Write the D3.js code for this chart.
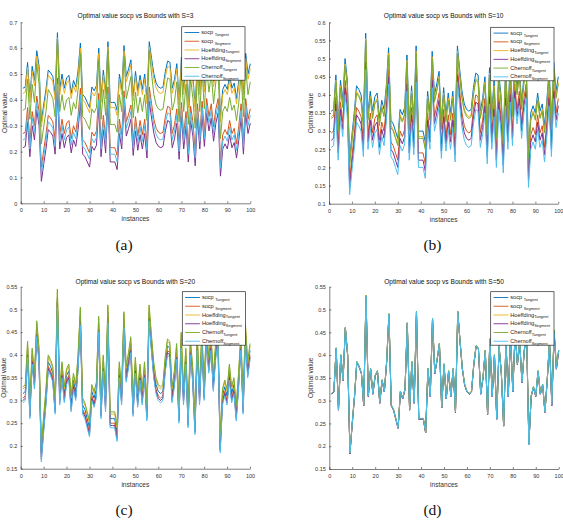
<!DOCTYPE html>
<html><head><meta charset="utf-8">
<script src="https://cdn.jsdelivr.net/npm/d3@7/dist/d3.min.js"></script>
<style>body{margin:0;background:#fff}svg{display:block}text{font-family:"Liberation Sans",Arial,Helvetica,sans-serif}</style>
</head><body><svg id="fig" width="563" height="522"></svg>
<script>
// ---------- data ----------
const instances = d3.range(1, 101);
const xTicks = [0,10,20,30,40,50,60,70,80,90,100];
const yTicksA = [0,0.1,0.2,0.3,0.4,0.5,0.6,0.7];
const yTicksB = [0.1,0.15,0.2,0.25,0.3,0.35,0.4,0.45,0.5,0.55,0.6];
const yTicksCD = [0.15,0.2,0.25,0.3,0.35,0.4,0.45,0.5,0.55];
const legendMain = ["socp ","socp ","Hoeffding","Hoeffding","Chernoff","Chernoff"];
const legendSub = ["Tangent","Segment","Tangent","Segment","Tangent","Segment"];
const colors = ["#0072BD","#D95319","#EDB120","#7E2F8E","#77AC30","#4DBEEE"];

// (a) S=3
const a_socpTan = [0.445,0.45,0.545,0.41,0.53,0.475,0.59,0.53,0.315,0.38,
0.44,0.515,0.505,0.49,0.42,0.66,0.44,0.50,0.445,0.485,
0.495,0.425,0.475,0.45,0.515,0.62,0.42,0.41,0.39,0.37,
0.45,0.435,0.455,0.60,0.41,0.515,0.425,0.625,0.39,0.39,
0.39,0.36,0.50,0.44,0.61,0.49,0.52,0.555,0.415,0.51,
0.435,0.495,0.44,0.50,0.405,0.625,0.56,0.50,0.465,0.45,
0.445,0.45,0.51,0.55,0.545,0.445,0.48,0.54,0.40,0.565,
0.44,0.53,0.39,0.55,0.49,0.375,0.56,0.44,0.57,0.45,
0.58,0.51,0.56,0.47,0.54,0.58,0.335,0.44,0.46,0.44,
0.495,0.445,0.465,0.405,0.475,0.56,0.42,0.58,0.50,0.54];
const a_socpSeg = [0.27,0.275,0.37,0.235,0.355,0.30,0.415,0.355,0.14,0.205,
0.265,0.34,0.33,0.315,0.245,0.485,0.265,0.325,0.27,0.31,
0.32,0.25,0.30,0.275,0.34,0.445,0.245,0.235,0.215,0.195,
0.275,0.26,0.28,0.425,0.235,0.34,0.25,0.45,0.215,0.215,
0.215,0.185,0.325,0.265,0.435,0.315,0.345,0.38,0.24,0.335,
0.26,0.32,0.265,0.325,0.23,0.45,0.385,0.325,0.29,0.275,
0.27,0.275,0.335,0.375,0.37,0.27,0.305,0.365,0.225,0.39,
0.265,0.355,0.215,0.375,0.315,0.20,0.385,0.265,0.395,0.275,
0.405,0.335,0.385,0.295,0.365,0.405,0.16,0.265,0.285,0.265,
0.32,0.27,0.29,0.23,0.30,0.385,0.245,0.405,0.325,0.365];
const a_hoefTan = [0.425,0.43,0.525,0.39,0.51,0.455,0.57,0.51,0.295,0.36,
0.42,0.495,0.485,0.47,0.40,0.64,0.42,0.48,0.425,0.465,
0.475,0.405,0.455,0.43,0.495,0.60,0.40,0.39,0.37,0.35,
0.43,0.415,0.435,0.58,0.39,0.495,0.405,0.605,0.37,0.37,
0.37,0.34,0.48,0.42,0.59,0.47,0.50,0.535,0.395,0.49,
0.415,0.475,0.42,0.48,0.385,0.605,0.54,0.48,0.445,0.43,
0.425,0.43,0.49,0.53,0.525,0.425,0.46,0.52,0.38,0.545,
0.42,0.51,0.37,0.53,0.47,0.355,0.54,0.42,0.55,0.43,
0.56,0.49,0.54,0.45,0.52,0.56,0.315,0.42,0.44,0.42,
0.475,0.425,0.445,0.385,0.455,0.54,0.40,0.56,0.48,0.52];
const a_hoefSeg = [0.215,0.22,0.315,0.18,0.30,0.245,0.36,0.30,0.085,0.15,
0.21,0.285,0.275,0.26,0.19,0.43,0.21,0.27,0.215,0.255,
0.265,0.195,0.245,0.22,0.285,0.39,0.19,0.18,0.16,0.14,
0.22,0.205,0.225,0.37,0.18,0.285,0.195,0.395,0.16,0.16,
0.16,0.13,0.27,0.21,0.38,0.26,0.29,0.325,0.185,0.28,
0.205,0.265,0.21,0.27,0.175,0.395,0.33,0.27,0.235,0.22,
0.215,0.22,0.28,0.32,0.315,0.215,0.25,0.31,0.17,0.335,
0.21,0.30,0.16,0.32,0.26,0.145,0.33,0.21,0.34,0.22,
0.35,0.28,0.33,0.24,0.31,0.35,0.105,0.21,0.23,0.21,
0.265,0.215,0.235,0.175,0.245,0.33,0.19,0.35,0.27,0.31];
const a_chernTan = [0.36,0.365,0.48,0.325,0.46,0.39,0.54,0.46,0.23,0.295,
0.355,0.44,0.425,0.405,0.335,0.635,0.355,0.42,0.36,0.40,
0.41,0.34,0.39,0.365,0.44,0.58,0.335,0.325,0.305,0.285,
0.365,0.35,0.37,0.555,0.325,0.44,0.34,0.59,0.305,0.305,
0.305,0.275,0.42,0.355,0.57,0.405,0.445,0.49,0.33,0.43,
0.35,0.41,0.355,0.42,0.32,0.59,0.50,0.42,0.38,0.365,
0.36,0.365,0.43,0.485,0.48,0.36,0.395,0.47,0.315,0.505,
0.355,0.46,0.305,0.485,0.405,0.29,0.50,0.355,0.51,0.365,
0.525,0.43,0.50,0.385,0.47,0.525,0.25,0.355,0.375,0.355,
0.41,0.36,0.38,0.32,0.39,0.50,0.335,0.525,0.42,0.47];
const a_chernSeg = [0.245,0.25,0.345,0.21,0.33,0.275,0.39,0.33,0.115,0.18,
0.24,0.315,0.305,0.29,0.22,0.46,0.24,0.30,0.245,0.285,
0.295,0.225,0.275,0.25,0.315,0.42,0.22,0.21,0.19,0.17,
0.25,0.235,0.255,0.40,0.21,0.315,0.225,0.425,0.19,0.19,
0.19,0.16,0.30,0.24,0.41,0.29,0.32,0.355,0.215,0.31,
0.235,0.295,0.24,0.30,0.205,0.425,0.36,0.30,0.265,0.25,
0.245,0.25,0.31,0.35,0.345,0.245,0.28,0.34,0.20,0.365,
0.24,0.33,0.19,0.35,0.29,0.175,0.36,0.24,0.37,0.25,
0.38,0.31,0.36,0.27,0.34,0.38,0.135,0.24,0.26,0.24,
0.295,0.245,0.265,0.205,0.275,0.36,0.22,0.38,0.30,0.34];

// (b) S=10
const b_socpTan = [0.355,0.36,0.455,0.32,0.44,0.385,0.50,0.44,0.225,0.29,
0.35,0.425,0.415,0.40,0.33,0.57,0.35,0.41,0.355,0.395,
0.405,0.335,0.385,0.36,0.425,0.53,0.33,0.32,0.30,0.28,
0.36,0.345,0.365,0.51,0.32,0.425,0.335,0.535,0.30,0.30,
0.30,0.27,0.41,0.35,0.52,0.40,0.43,0.465,0.325,0.42,
0.345,0.405,0.35,0.41,0.315,0.535,0.47,0.41,0.375,0.36,
0.355,0.36,0.42,0.46,0.455,0.355,0.39,0.45,0.31,0.475,
0.35,0.44,0.30,0.46,0.40,0.285,0.47,0.35,0.48,0.36,
0.49,0.42,0.47,0.38,0.45,0.49,0.245,0.35,0.37,0.35,
0.405,0.355,0.375,0.315,0.385,0.47,0.33,0.49,0.41,0.45];
const b_socpSeg = [0.295,0.30,0.395,0.26,0.38,0.325,0.44,0.38,0.165,0.23,
0.29,0.365,0.355,0.34,0.27,0.51,0.29,0.35,0.295,0.335,
0.345,0.275,0.325,0.30,0.365,0.47,0.27,0.26,0.24,0.22,
0.30,0.285,0.305,0.45,0.26,0.365,0.275,0.475,0.24,0.24,
0.24,0.21,0.35,0.29,0.46,0.34,0.37,0.405,0.265,0.36,
0.285,0.345,0.29,0.35,0.255,0.475,0.41,0.35,0.315,0.30,
0.295,0.30,0.36,0.40,0.395,0.295,0.33,0.39,0.25,0.415,
0.29,0.38,0.24,0.40,0.34,0.225,0.41,0.29,0.42,0.30,
0.43,0.36,0.41,0.32,0.39,0.43,0.185,0.29,0.31,0.29,
0.345,0.295,0.315,0.255,0.325,0.41,0.27,0.43,0.35,0.39];
const b_hoefTan = [0.34,0.345,0.44,0.305,0.425,0.37,0.485,0.425,0.21,0.275,
0.335,0.41,0.40,0.385,0.315,0.555,0.335,0.395,0.34,0.38,
0.39,0.32,0.37,0.345,0.41,0.515,0.315,0.305,0.285,0.265,
0.345,0.33,0.35,0.495,0.305,0.41,0.32,0.52,0.285,0.285,
0.285,0.255,0.395,0.335,0.505,0.385,0.415,0.45,0.31,0.405,
0.33,0.39,0.335,0.395,0.30,0.52,0.455,0.395,0.36,0.345,
0.34,0.345,0.405,0.445,0.44,0.34,0.375,0.435,0.295,0.46,
0.335,0.425,0.285,0.445,0.385,0.27,0.455,0.335,0.465,0.345,
0.475,0.405,0.455,0.365,0.435,0.475,0.23,0.335,0.355,0.335,
0.39,0.34,0.36,0.30,0.37,0.455,0.315,0.475,0.395,0.435];
const b_hoefSeg = [0.275,0.28,0.375,0.24,0.36,0.305,0.42,0.36,0.145,0.21,
0.27,0.345,0.335,0.32,0.25,0.49,0.27,0.33,0.275,0.315,
0.325,0.255,0.305,0.28,0.345,0.45,0.25,0.24,0.22,0.20,
0.28,0.265,0.285,0.43,0.24,0.345,0.255,0.455,0.22,0.22,
0.22,0.19,0.33,0.27,0.44,0.32,0.35,0.385,0.245,0.34,
0.265,0.325,0.27,0.33,0.235,0.455,0.39,0.33,0.295,0.28,
0.275,0.28,0.34,0.38,0.375,0.275,0.31,0.37,0.23,0.395,
0.27,0.36,0.22,0.38,0.32,0.205,0.39,0.27,0.40,0.28,
0.41,0.34,0.39,0.30,0.37,0.41,0.165,0.27,0.29,0.27,
0.325,0.275,0.295,0.235,0.305,0.39,0.25,0.41,0.33,0.37];
const b_chernTan = [0.335,0.34,0.435,0.30,0.42,0.365,0.48,0.42,0.205,0.27,
0.33,0.405,0.395,0.38,0.31,0.55,0.33,0.39,0.335,0.375,
0.385,0.315,0.365,0.34,0.405,0.51,0.31,0.30,0.28,0.26,
0.34,0.325,0.345,0.49,0.30,0.405,0.315,0.515,0.28,0.28,
0.28,0.25,0.39,0.33,0.50,0.38,0.41,0.445,0.305,0.40,
0.325,0.385,0.33,0.39,0.295,0.515,0.45,0.39,0.355,0.34,
0.335,0.34,0.40,0.44,0.435,0.335,0.37,0.43,0.29,0.455,
0.33,0.42,0.28,0.44,0.38,0.265,0.45,0.33,0.46,0.34,
0.47,0.40,0.45,0.36,0.43,0.47,0.225,0.33,0.35,0.33,
0.385,0.335,0.355,0.295,0.365,0.45,0.31,0.47,0.39,0.43];
const b_chernSeg = [0.255,0.26,0.355,0.22,0.34,0.285,0.40,0.34,0.125,0.19,
0.25,0.325,0.315,0.30,0.23,0.47,0.25,0.31,0.255,0.295,
0.305,0.235,0.285,0.26,0.325,0.43,0.23,0.22,0.20,0.18,
0.26,0.245,0.265,0.41,0.22,0.325,0.235,0.435,0.20,0.20,
0.20,0.17,0.31,0.25,0.42,0.30,0.33,0.365,0.225,0.32,
0.245,0.305,0.25,0.31,0.215,0.435,0.37,0.31,0.275,0.26,
0.255,0.26,0.32,0.36,0.355,0.255,0.29,0.35,0.21,0.375,
0.25,0.34,0.20,0.36,0.30,0.185,0.37,0.25,0.38,0.26,
0.39,0.32,0.37,0.28,0.35,0.39,0.145,0.25,0.27,0.25,
0.305,0.255,0.275,0.215,0.285,0.37,0.23,0.39,0.31,0.35];

// (c) S=20
const c_socpTan = [0.315,0.32,0.415,0.28,0.40,0.345,0.46,0.40,0.185,0.25,
0.31,0.385,0.375,0.36,0.29,0.525,0.31,0.37,0.315,0.355,
0.365,0.295,0.345,0.32,0.385,0.487,0.29,0.28,0.26,0.24,
0.32,0.305,0.325,0.47,0.28,0.385,0.295,0.495,0.26,0.26,
0.26,0.23,0.37,0.31,0.48,0.36,0.39,0.425,0.285,0.38,
0.305,0.365,0.31,0.37,0.275,0.495,0.43,0.37,0.335,0.32,
0.315,0.32,0.38,0.42,0.415,0.315,0.35,0.41,0.27,0.435,
0.31,0.40,0.26,0.42,0.36,0.245,0.43,0.31,0.44,0.32,
0.45,0.38,0.43,0.34,0.41,0.45,0.205,0.31,0.33,0.31,
0.365,0.315,0.335,0.275,0.345,0.43,0.29,0.45,0.37,0.41];
const c_socpSeg = [0.305,0.31,0.405,0.27,0.39,0.335,0.45,0.39,0.175,0.24,
0.30,0.375,0.365,0.35,0.28,0.52,0.30,0.36,0.305,0.345,
0.355,0.285,0.335,0.31,0.375,0.48,0.28,0.27,0.25,0.23,
0.31,0.295,0.315,0.46,0.27,0.375,0.285,0.485,0.25,0.25,
0.25,0.22,0.36,0.30,0.47,0.35,0.38,0.415,0.275,0.37,
0.295,0.355,0.30,0.36,0.265,0.485,0.42,0.36,0.325,0.31,
0.305,0.31,0.37,0.41,0.405,0.305,0.34,0.40,0.26,0.425,
0.30,0.39,0.25,0.41,0.35,0.235,0.42,0.30,0.43,0.31,
0.44,0.37,0.42,0.33,0.40,0.44,0.195,0.30,0.32,0.30,
0.355,0.305,0.325,0.265,0.335,0.42,0.28,0.44,0.36,0.40];
const c_hoefTan = [0.325,0.33,0.425,0.29,0.41,0.355,0.47,0.41,0.195,0.26,
0.32,0.395,0.385,0.37,0.30,0.54,0.32,0.38,0.325,0.365,
0.375,0.305,0.355,0.33,0.395,0.50,0.30,0.29,0.27,0.25,
0.33,0.315,0.335,0.48,0.29,0.395,0.305,0.505,0.27,0.27,
0.27,0.24,0.38,0.32,0.49,0.37,0.40,0.435,0.295,0.39,
0.315,0.375,0.32,0.38,0.285,0.505,0.44,0.38,0.345,0.33,
0.325,0.33,0.39,0.43,0.425,0.325,0.36,0.42,0.28,0.445,
0.32,0.41,0.27,0.43,0.37,0.255,0.44,0.32,0.45,0.33,
0.46,0.39,0.44,0.35,0.42,0.46,0.215,0.32,0.34,0.32,
0.375,0.325,0.345,0.285,0.355,0.44,0.30,0.47,0.38,0.42];
const c_hoefSeg = [0.30,0.305,0.40,0.265,0.385,0.33,0.445,0.385,0.17,0.235,
0.295,0.37,0.36,0.345,0.275,0.515,0.295,0.355,0.30,0.34,
0.35,0.28,0.33,0.305,0.37,0.475,0.275,0.265,0.245,0.225,
0.305,0.29,0.31,0.455,0.265,0.37,0.28,0.48,0.245,0.245,
0.245,0.215,0.355,0.295,0.465,0.345,0.375,0.41,0.27,0.365,
0.29,0.35,0.295,0.355,0.26,0.48,0.415,0.355,0.32,0.305,
0.30,0.305,0.365,0.405,0.40,0.30,0.335,0.395,0.255,0.42,
0.295,0.385,0.245,0.405,0.345,0.23,0.415,0.295,0.425,0.305,
0.435,0.365,0.415,0.325,0.395,0.435,0.19,0.295,0.315,0.295,
0.35,0.30,0.32,0.26,0.33,0.415,0.275,0.435,0.355,0.395];
const c_chernTan = [0.33,0.335,0.43,0.295,0.415,0.36,0.475,0.415,0.20,0.265,
0.325,0.40,0.39,0.375,0.305,0.545,0.325,0.385,0.33,0.37,
0.38,0.31,0.36,0.335,0.40,0.505,0.305,0.295,0.275,0.255,
0.335,0.32,0.34,0.485,0.295,0.40,0.31,0.51,0.275,0.275,
0.275,0.245,0.385,0.325,0.495,0.375,0.405,0.44,0.30,0.395,
0.32,0.38,0.325,0.385,0.29,0.51,0.445,0.385,0.35,0.335,
0.33,0.335,0.395,0.435,0.43,0.33,0.365,0.425,0.285,0.45,
0.325,0.415,0.275,0.435,0.375,0.26,0.445,0.325,0.455,0.335,
0.465,0.395,0.445,0.355,0.425,0.465,0.22,0.325,0.345,0.325,
0.38,0.33,0.35,0.29,0.36,0.445,0.305,0.465,0.385,0.425];
const c_chernSeg = [0.295,0.30,0.395,0.26,0.38,0.325,0.44,0.38,0.165,0.23,
0.29,0.365,0.355,0.34,0.27,0.505,0.29,0.35,0.295,0.335,
0.345,0.275,0.325,0.30,0.365,0.465,0.27,0.26,0.24,0.22,
0.30,0.285,0.305,0.45,0.26,0.365,0.275,0.47,0.24,0.24,
0.24,0.21,0.35,0.29,0.46,0.34,0.37,0.405,0.265,0.36,
0.285,0.345,0.29,0.35,0.255,0.475,0.41,0.35,0.315,0.30,
0.295,0.30,0.36,0.40,0.395,0.295,0.33,0.39,0.25,0.415,
0.29,0.38,0.24,0.40,0.34,0.225,0.41,0.29,0.42,0.30,
0.43,0.36,0.41,0.32,0.39,0.43,0.185,0.29,0.31,0.29,
0.345,0.295,0.315,0.255,0.325,0.41,0.27,0.43,0.35,0.39];

// (d) S=50
const d_socpTan = [0.315,0.32,0.415,0.28,0.40,0.345,0.46,0.40,0.185,0.25,
0.31,0.385,0.375,0.36,0.29,0.53,0.31,0.37,0.315,0.355,
0.365,0.295,0.345,0.32,0.385,0.49,0.29,0.28,0.26,0.24,
0.32,0.305,0.325,0.47,0.28,0.385,0.295,0.495,0.26,0.26,
0.26,0.23,0.37,0.31,0.48,0.36,0.39,0.425,0.285,0.38,
0.305,0.365,0.31,0.37,0.275,0.495,0.43,0.37,0.335,0.32,
0.315,0.32,0.38,0.42,0.415,0.315,0.35,0.41,0.27,0.435,
0.31,0.40,0.26,0.42,0.36,0.245,0.43,0.31,0.44,0.32,
0.45,0.38,0.43,0.34,0.41,0.45,0.205,0.31,0.33,0.31,
0.365,0.315,0.335,0.275,0.345,0.43,0.29,0.45,0.37,0.41];
const d_socpSeg = [0.314,0.319,0.414,0.279,0.399,0.344,0.459,0.399,0.184,0.249,
0.309,0.384,0.374,0.359,0.289,0.528,0.309,0.369,0.314,0.354,
0.364,0.294,0.344,0.319,0.384,0.488,0.289,0.279,0.259,0.239,
0.319,0.304,0.324,0.469,0.279,0.384,0.294,0.494,0.259,0.259,
0.259,0.229,0.369,0.309,0.479,0.359,0.389,0.424,0.284,0.379,
0.304,0.364,0.309,0.369,0.274,0.494,0.429,0.369,0.334,0.319,
0.314,0.319,0.379,0.419,0.414,0.314,0.349,0.409,0.269,0.434,
0.309,0.399,0.259,0.419,0.359,0.244,0.429,0.309,0.439,0.319,
0.449,0.379,0.429,0.339,0.409,0.449,0.204,0.309,0.329,0.309,
0.364,0.314,0.334,0.274,0.344,0.429,0.289,0.449,0.369,0.409];
const d_hoefTan = [0.316,0.321,0.416,0.281,0.401,0.346,0.461,0.401,0.186,0.251,
0.311,0.386,0.376,0.361,0.291,0.531,0.311,0.371,0.316,0.356,
0.366,0.296,0.346,0.321,0.386,0.491,0.291,0.281,0.261,0.241,
0.321,0.306,0.326,0.471,0.281,0.386,0.296,0.496,0.261,0.261,
0.261,0.231,0.371,0.311,0.481,0.361,0.391,0.426,0.286,0.381,
0.306,0.366,0.311,0.371,0.276,0.496,0.431,0.371,0.336,0.321,
0.316,0.321,0.381,0.421,0.416,0.316,0.351,0.411,0.271,0.436,
0.311,0.401,0.261,0.421,0.361,0.246,0.431,0.311,0.441,0.321,
0.451,0.381,0.431,0.341,0.411,0.451,0.206,0.311,0.331,0.311,
0.366,0.316,0.336,0.276,0.346,0.431,0.291,0.452,0.371,0.411];
const d_hoefSeg = [0.314,0.319,0.414,0.279,0.399,0.344,0.459,0.399,0.183,0.249,
0.309,0.384,0.374,0.359,0.289,0.529,0.309,0.369,0.314,0.354,
0.364,0.294,0.344,0.319,0.384,0.489,0.289,0.279,0.259,0.239,
0.319,0.304,0.324,0.469,0.279,0.384,0.294,0.494,0.259,0.259,
0.259,0.229,0.369,0.309,0.479,0.359,0.389,0.424,0.284,0.379,
0.304,0.364,0.309,0.369,0.274,0.494,0.429,0.369,0.334,0.319,
0.314,0.319,0.379,0.419,0.414,0.314,0.349,0.409,0.269,0.434,
0.309,0.399,0.259,0.419,0.359,0.244,0.429,0.309,0.439,0.319,
0.449,0.379,0.429,0.339,0.409,0.449,0.204,0.309,0.329,0.309,
0.364,0.314,0.334,0.274,0.344,0.429,0.289,0.449,0.369,0.409];
const d_chernTan = [0.316,0.321,0.416,0.281,0.401,0.346,0.461,0.401,0.186,0.251,
0.311,0.386,0.376,0.361,0.291,0.531,0.311,0.371,0.316,0.356,
0.366,0.296,0.346,0.321,0.386,0.491,0.291,0.281,0.261,0.241,
0.321,0.306,0.326,0.471,0.281,0.386,0.296,0.496,0.261,0.261,
0.261,0.231,0.371,0.311,0.481,0.361,0.391,0.426,0.286,0.381,
0.306,0.366,0.311,0.371,0.276,0.496,0.431,0.371,0.336,0.321,
0.316,0.321,0.381,0.421,0.416,0.316,0.351,0.411,0.271,0.436,
0.311,0.401,0.261,0.421,0.361,0.246,0.431,0.311,0.441,0.321,
0.451,0.381,0.431,0.341,0.411,0.451,0.206,0.311,0.331,0.311,
0.366,0.316,0.336,0.276,0.346,0.431,0.30,0.455,0.38,0.411];
const d_chernSeg = [0.315,0.32,0.415,0.28,0.40,0.345,0.46,0.40,0.185,0.25,
0.31,0.385,0.375,0.36,0.29,0.53,0.31,0.37,0.315,0.355,
0.365,0.295,0.345,0.32,0.385,0.49,0.29,0.28,0.26,0.24,
0.32,0.305,0.325,0.47,0.28,0.385,0.295,0.495,0.26,0.26,
0.26,0.23,0.37,0.31,0.48,0.36,0.39,0.425,0.285,0.38,
0.305,0.365,0.31,0.37,0.275,0.495,0.43,0.37,0.335,0.32,
0.315,0.32,0.38,0.42,0.415,0.315,0.35,0.41,0.27,0.435,
0.31,0.40,0.26,0.42,0.36,0.245,0.43,0.31,0.44,0.32,
0.45,0.38,0.43,0.34,0.41,0.45,0.203,0.31,0.33,0.31,
0.365,0.315,0.335,0.275,0.345,0.43,0.29,0.45,0.37,0.41];

// ---------- layout ----------
const panels = [
  {title:"Optimal value socp vs Bounds with S=3", cap:"(a)", series:[a_socpTan,a_socpSeg,a_hoefTan,a_hoefSeg,a_chernTan,a_chernSeg],
   yTicks:yTicksA, yDom:[0,0.7], x0:20.7, x1:250.3, yT:22.3, yB:203.3, tY:18, capX:124, capY:250, ylX:5, leg:[181.7,26.7]},
  {title:"Optimal value socp vs Bounds with S=10", cap:"(b)", series:[b_socpTan,b_socpSeg,b_hoefTan,b_hoefSeg,b_chernTan,b_chernSeg],
   yTicks:yTicksB, yDom:[0.1,0.6], x0:329, x1:558.3, yT:22.3, yB:203.7, tY:18, capX:432.5, capY:250, ylX:311, leg:[490.7,27.3]},
  {title:"Optimal value socp vs Bounds with S=20", cap:"(c)", series:[c_socpTan,c_socpSeg,c_hoefTan,c_hoefSeg,c_chernTan,c_chernSeg],
   yTicks:yTicksCD, yDom:[0.15,0.55], x0:20.7, x1:250, yT:286.7, yB:468.7, tY:284, capX:124, capY:515, ylX:4, leg:[182.3,291.7]},
  {title:"Optimal value socp vs Bounds with S=50", cap:"(d)", series:[d_socpTan,d_socpSeg,d_hoefTan,d_hoefSeg,d_chernTan,d_chernSeg],
   yTicks:yTicksCD, yDom:[0.15,0.55], x0:329.3, x1:558.7, yT:286.7, yB:469, tY:284, capX:432.5, capY:515, ylX:311, leg:[490.7,291.7]}
];

const svg = d3.select("#fig");
const axCol = "#262626";
const fmt = v => String(+v.toFixed(2));

panels.forEach(p => {
  const g = svg.append("g");
  const x = d3.scaleLinear().domain([0,100]).range([p.x0, p.x1]);
  const y = d3.scaleLinear().domain(p.yDom).range([p.yB, p.yT]);

  // lines
  const line = d3.line().x((d,i) => x(instances[i])).y(d => y(d));
  p.series.forEach((s, k) => {
    g.append("path").datum(s).attr("d", line)
      .attr("fill","none").attr("stroke", colors[k]).attr("stroke-width", 1)
      .attr("stroke-linejoin","round");
  });

  // axes
  const xa = g.append("g").attr("transform", `translate(0,${p.yB})`)
    .call(d3.axisBottom(x).tickValues(xTicks).tickSizeInner(-2).tickSizeOuter(0).tickPadding(5).tickFormat(fmt));
  const ya = g.append("g").attr("transform", `translate(${p.x0},0)`)
    .call(d3.axisLeft(y).tickValues(p.yTicks).tickSizeInner(-2).tickSizeOuter(0).tickPadding(3.5).tickFormat(fmt));
  [xa, ya].forEach(a => {
    a.selectAll("path,line").attr("stroke", axCol).attr("stroke-width", 0.6);
    a.selectAll("text").attr("fill", "#333").style("font-size", "5.5px").attr("font-family", null);
  });

  // title and labels
  g.append("text").attr("x", (p.x0 + p.x1) / 2).attr("y", p.tY).attr("text-anchor","middle")
    .style("font-size","6.6px").attr("fill","#111").text(p.title);
  g.append("text").attr("x", (p.x0 + p.x1) / 2).attr("y", p.yB + 18).attr("text-anchor","middle")
    .style("font-size","6.6px").attr("fill","#333").text("instances");
  g.append("text").attr("transform", `translate(${p.ylX},${(p.yT + p.yB) / 2}) rotate(-90)`)
    .attr("text-anchor","middle").attr("dy","0.35em").style("font-size","6.6px").attr("fill","#333").text("Optimal value");

  // legend
  const [lx, ly] = p.leg;
  const lg = g.append("g");
  lg.append("rect").attr("x", lx).attr("y", ly).attr("width", 63.3).attr("height", 53.5)
    .attr("fill","#fff").attr("stroke", axCol).attr("stroke-width", 0.7);
  legendMain.forEach((m, k) => {
    const ry = ly + 5.8 + k * 8.75;
    lg.append("line").attr("x1", lx + 2.8).attr("x2", lx + 17.6).attr("y1", ry).attr("y2", ry)
      .attr("stroke", colors[k]).attr("stroke-width", 0.9);
    const t = lg.append("text").attr("x", lx + 19.6).attr("y", ry + 1.6).style("font-size","5.6px").attr("fill","#222");
    t.append("tspan").text(m);
    t.append("tspan").attr("dy", 1.8).style("font-size","4px").text(legendSub[k]);
  });

  // caption
  svg.append("text").attr("x", p.capX).attr("y", p.capY).attr("text-anchor","middle")
    .style("font-family","'Liberation Serif','Times New Roman',serif").style("font-size","15.5px").attr("fill","#111").text(p.cap);
});
</script>
</body></html>
